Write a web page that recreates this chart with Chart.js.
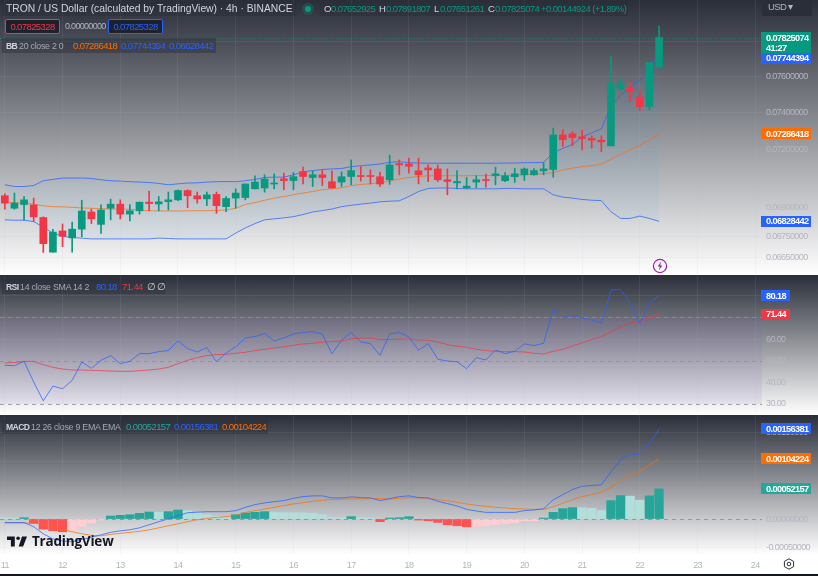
<!DOCTYPE html>
<html lang="en">
<head>
<meta charset="utf-8">
<title>TRON / US Dollar 4h</title>
<script src="https://cdn.jsdelivr.net/npm/chart.js@4"></script>
<style>
  html, body { margin: 0; padding: 0; width: 818px; height: 576px; overflow: hidden; background: #131722; }
  body { position: relative; font-family: "Liberation Sans", sans-serif; }
  .pane { position: absolute; left: 0; width: 818px; }
  #pricePane { top: 0; height: 275px; background: linear-gradient(#2a2e39, #ffffff); }
  #rsiPane { top: 275px; height: 140px; background: linear-gradient(#2a2e39, #ffffff); }
  #macdPane { top: 415px; height: 159px; background: linear-gradient(#2a2e39 0%, #ffffff 88%); }
  canvas { position: absolute; left: 0; top: 0; }
  .t { position: absolute; white-space: nowrap; font-size: 9.5px; line-height: 12px; color: #a5a8b2; letter-spacing: -0.6px; }
  .d { font-size: 8.8px; letter-spacing: -0.25px; }
  .n { color: #d1d4dc; font-size: 8.6px; font-weight: 700; letter-spacing: -0.6px; }
  .shade { position: absolute; background: rgba(42,46,57,0.45); }
  .name { color: #d1d4dc; }
  .green { color: #089981; }
  .teal { color: #26a69a; }
  .blue { color: #2962ff; }
  .orange { color: #ff6d00; }
  .red { color: #f23645; }
  .box { position: absolute; top: 19px; width: 53px; height: 13px; border: 1px solid; border-radius: 2px; background: rgba(19,23,34,0.75); text-align: center; font-size: 9.5px; line-height: 13px; letter-spacing: -0.6px; }
</style>
</head>
<body>
<div class="pane" id="pricePane"><canvas id="priceChart" width="818" height="275"></canvas></div>
<div class="pane" id="rsiPane"><canvas id="rsiChart" width="818" height="140"></canvas></div>
<div class="pane" id="macdPane"><canvas id="macdChart" width="818" height="159"></canvas></div>

<div class="shade" style="left:2px;top:1px;width:294px;height:15px"></div>
<div class="shade" style="left:320px;top:1px;width:308px;height:15px"></div>
<div class="t name" style="left:6px;top:3px;font-size:10.3px;letter-spacing:0" id="symbolTitle">TRON / US Dollar (calculated by TradingView) · 4h · BINANCE</div>
<div style="position:absolute;left:302px;top:3px;width:12px;height:12px;border-radius:50%;background:rgba(8,153,129,0.25)"></div>
<div style="position:absolute;left:305px;top:6px;width:6px;height:6px;border-radius:50%;background:#089981"></div>
<div class="t name" style="left:324px;top:3px">O</div><div class="t green" style="left:331px;top:3px">0.07652925</div>
<div class="t name" style="left:379px;top:3px">H</div><div class="t green" style="left:386px;top:3px">0.07891807</div>
<div class="t name" style="left:434px;top:3px">L</div><div class="t green" style="left:440px;top:3px">0.07651261</div>
<div class="t name" style="left:488px;top:3px">C</div><div class="t green" style="left:495px;top:3px">0.07825074</div>
<div class="t green" style="left:541px;top:3px">+0.00144924 (+1.89%)</div>

<div class="box red" style="left:5px;border-color:#f23645">0.07825328</div>
<div class="t" style="left:65px;top:20px;color:#b2b5be;font-size:9px;letter-spacing:-0.7px">0.00000000</div>
<div class="box blue" style="left:108px;border-color:#2962ff">0.07825328</div>

<div class="shade" style="left:2px;top:38px;width:214px;height:15px"></div>
<div class="t n" style="left:6px;top:40px">BB</div>
<div class="t d" style="left:19px;top:40px">20 close 2 0</div>
<div class="t orange" style="left:73px;top:40px">0.07286418</div>
<div class="t blue" style="left:121px;top:40px">0.07744394</div>
<div class="t blue" style="left:169px;top:40px">0.06828442</div>

<div class="shade" style="left:2px;top:279px;width:163px;height:15px"></div>
<div class="t n" style="left:6px;top:281px">RSI</div>
<div class="t d" style="left:20px;top:281px">14 close SMA 14 2</div>
<div class="t blue" style="left:96px;top:281px">80.18</div>
<div class="t red" style="left:122px;top:281px">71.44</div>
<div class="t name" style="left:147px;top:281px">∅ ∅</div>

<div class="shade" style="left:2px;top:419px;width:266px;height:15px"></div>
<div class="t n" style="left:6px;top:421px">MACD</div>
<div class="t d" style="left:31px;top:421px">12 26 close 9 EMA EMA</div>
<div class="t teal" style="left:126px;top:421px">0.00052157</div>
<div class="t blue" style="left:174px;top:421px">0.00156381</div>
<div class="t orange" style="left:222px;top:421px">0.00104224</div>

<div style="position:absolute;left:762px;top:0;width:50px;height:16px;background:#2a2e39"></div>
<div class="t" style="left:768px;top:1px;color:#b2b5be;font-size:9.5px">USD ▾</div>

<!-- Lightning marker under the latest bar -->
<svg style="position:absolute;left:652px;top:258px" width="16" height="16" viewBox="0 0 16 16">
  <circle cx="8" cy="8" r="6.6" fill="none" stroke="#9c27b0" stroke-width="1.2"/>
  <path d="M9.2 3.6 5.6 8.6h2.2L6.8 12.4l3.6-5H8.2z" fill="#9c27b0"/>
</svg>

<!-- Brand mark and wordmark -->
<svg style="position:absolute;left:7px;top:535px" width="20" height="12" viewBox="0 0 36 20">
  <path d="M14 2H0v6h7v12h7zM29 20h-8l6-18h9z" fill="#131722"/><circle cx="20" cy="5" r="3.2" fill="#131722"/>
</svg>
<div class="t" style="left:32px;top:532px;font-size:13.5px;line-height:18px;font-weight:700;color:#131722;font-family:'Open Sans',sans-serif;letter-spacing:-0.2px">TradingView</div>

<!-- Time-scale settings icon -->
<svg style="position:absolute;left:783px;top:558px" width="12" height="12" viewBox="0 0 12 12">
  <path d="M6 .8 10.6 3.4v5.2L6 11.2 1.4 8.6V3.4z" fill="none" stroke="#2a2e39" stroke-width="1"/>
  <circle cx="6" cy="6" r="1.8" fill="none" stroke="#2a2e39" stroke-width="1"/>
</svg>

<script>
// Candles, newest last (one bar every four hours)
const opens = [0.06959,0.06895,0.06914,0.06912,0.06848,0.06674,0.06780,0.06745,0.06789,0.06876,0.06813,0.06895,0.06916,0.06865,0.06882,0.06926,0.06917,0.06929,0.06938,0.06986,0.06959,0.06943,0.06966,0.06903,0.06947,0.06950,0.06995,0.06999,0.07020,0.07047,0.07038,0.07085,0.07054,0.07068,0.07032,0.07030,0.07059,0.07063,0.07063,0.07058,0.07042,0.07127,0.07125,0.07089,0.07104,0.07099,0.07042,0.07026,0.07000,0.07030,0.07042,0.07064,0.07037,0.07058,0.07068,0.07068,0.07089,0.07096,0.07280,0.07286,0.07270,0.07261,0.07252,0.07221,0.07533,0.07538,0.07487,0.07435,0.07652925];
const highs = [0.06969,0.06973,0.06955,0.06947,0.06851,0.06788,0.06815,0.06824,0.06936,0.06891,0.06912,0.06942,0.06938,0.06914,0.06926,0.06983,0.06955,0.06978,0.06990,0.06990,0.06978,0.06978,0.06978,0.06955,0.06995,0.07020,0.07063,0.07068,0.07073,0.07077,0.07080,0.07108,0.07089,0.07094,0.07089,0.07084,0.07146,0.07111,0.07094,0.07082,0.07172,0.07146,0.07156,0.07156,0.07120,0.07120,0.07099,0.07090,0.07054,0.07063,0.07072,0.07108,0.07080,0.07101,0.07104,0.07101,0.07132,0.07317,0.07307,0.07298,0.07305,0.07275,0.07275,0.07715,0.07593,0.07568,0.07527,0.07681,0.07891807];
const lows = [0.06890,0.06890,0.06836,0.06827,0.06673,0.06674,0.06701,0.06674,0.06751,0.06817,0.06768,0.06836,0.06841,0.06830,0.06865,0.06882,0.06882,0.06886,0.06934,0.06898,0.06921,0.06908,0.06869,0.06877,0.06895,0.06938,0.06994,0.06978,0.06995,0.06990,0.06990,0.07020,0.07007,0.07011,0.06999,0.07007,0.07016,0.07035,0.07020,0.07007,0.07018,0.07068,0.07077,0.07021,0.07032,0.07033,0.06964,0.06994,0.06997,0.07000,0.07004,0.07016,0.07032,0.07028,0.07038,0.07066,0.07068,0.07056,0.07218,0.07223,0.07200,0.07209,0.07191,0.07221,0.07527,0.07462,0.07413,0.07416,0.07651261];
const closes = [0.06921,0.06921,0.06938,0.06851,0.06716,0.06774,0.06753,0.06789,0.06881,0.06841,0.06886,0.06916,0.06865,0.06882,0.06926,0.06919,0.06928,0.06938,0.06986,0.06959,0.06943,0.06964,0.06908,0.06945,0.06973,0.07020,0.07030,0.07046,0.07023,0.07038,0.07058,0.07059,0.07068,0.07054,0.06999,0.07058,0.07090,0.07059,0.07059,0.07020,0.07120,0.07120,0.07113,0.07068,0.07094,0.07042,0.07033,0.07033,0.07009,0.07042,0.07038,0.07073,0.07063,0.07073,0.07099,0.07090,0.07099,0.07280,0.07255,0.07266,0.07261,0.07252,0.07243,0.07565,0.07565,0.07518,0.07435,0.07681,0.07825074];

// Bollinger Bands (20, 2)
const bbUpper = [0.07016,0.07007,0.07007,0.07012,0.07037,0.07044,0.07051,0.07051,0.07051,0.07049,0.07042,0.07037,0.07035,0.07032,0.07030,0.07028,0.07023,0.07016,0.07021,0.07025,0.07026,0.07030,0.07032,0.07033,0.07032,0.07037,0.07044,0.07054,0.07056,0.07056,0.07068,0.07084,0.07090,0.07096,0.07099,0.07101,0.07111,0.07116,0.07120,0.07125,0.07134,0.07137,0.07132,0.07130,0.07129,0.07129,0.07129,0.07129,0.07129,0.07129,0.07129,0.07129,0.07130,0.07130,0.07132,0.07132,0.07134,0.07184,0.07208,0.07229,0.07270,0.07291,0.07313,0.07435,0.07499,0.07538,0.07583,0.07630,0.07744394];
const bbBasis = [0.06926,0.06924,0.06921,0.06916,0.06907,0.06903,0.06902,0.06900,0.06896,0.06895,0.06893,0.06891,0.06890,0.06890,0.06886,0.06882,0.06881,0.06881,0.06881,0.06882,0.06882,0.06882,0.06884,0.06886,0.06895,0.06914,0.06924,0.06936,0.06947,0.06955,0.06964,0.06973,0.06981,0.06990,0.06995,0.07000,0.07011,0.07018,0.07021,0.07028,0.07035,0.07046,0.07054,0.07059,0.07063,0.07063,0.07063,0.07063,0.07063,0.07064,0.07064,0.07064,0.07064,0.07066,0.07068,0.07072,0.07073,0.07080,0.07094,0.07103,0.07111,0.07116,0.07124,0.07150,0.07176,0.07202,0.07223,0.07253,0.07286418];
const bbLower = [0.06836,0.06834,0.06834,0.06827,0.06799,0.06769,0.06753,0.06747,0.06744,0.06740,0.06740,0.06740,0.06740,0.06740,0.06740,0.06740,0.06744,0.06742,0.06740,0.06740,0.06740,0.06740,0.06740,0.06740,0.06769,0.06795,0.06817,0.06836,0.06841,0.06846,0.06852,0.06863,0.06876,0.06883,0.06891,0.06903,0.06910,0.06916,0.06921,0.06928,0.06931,0.06933,0.06955,0.06981,0.06997,0.06999,0.06999,0.06997,0.06995,0.06995,0.06995,0.06995,0.06997,0.06997,0.06995,0.06995,0.06995,0.06964,0.06952,0.06947,0.06940,0.06936,0.06934,0.06877,0.06843,0.06843,0.06855,0.06843,0.06828442];

// RSI (14) and its SMA
const rsiValues = [47.83,47.67,49.69,40.08,31.4,38.22,36.98,40.85,49.38,46.43,50.16,52.33,48.6,49.69,53.26,53.26,54.19,54.65,59.15,55.58,54.03,56.05,49.53,53.57,56.36,60.54,61.16,62.56,59.15,60.54,62.4,63.02,63.49,62.25,53.26,59.46,63.02,58.68,57.91,52.48,62.4,63.02,61.01,54.81,57.91,50.62,49.84,49.53,46.28,51.4,50.31,54.96,53.26,54.34,57.75,56.98,58.06,73.72,70,70.93,69.84,68.76,67.36,82.71,83.02,76.51,67.36,76.51,80.18];
const rsiAverage = [48.91,49.07,49.69,49.69,48.14,46.9,46.12,45.66,45.66,45.5,45.35,45.19,45.04,45.04,45.35,45.66,46.12,46.9,48.6,50.16,51.4,52.33,52.79,52.95,53.41,53.88,54.65,55.27,55.89,56.36,57.13,57.75,58.06,58.53,58.84,59.15,60.08,60.39,60.54,59.77,59.77,59.92,60.08,59.61,59.46,58.68,57.44,56.67,56.2,55.27,54.65,54.34,54.19,54.19,54.03,53.41,53.1,54.34,55.27,56.82,58.22,59.77,61.01,63.33,65.66,67.36,68.29,70,71.44];

// MACD (12, 26, 9)
const macdHistogram = [0.000023,0.000017,0.000023,-0.000075,-0.000174,-0.000203,-0.000221,-0.000209,-0.000128,-0.00007,-0.000017,0.000052,0.000064,0.000075,0.000099,0.000122,0.000116,0.000128,0.000157,0.000145,0.000116,0.000075,0.000046,0.000029,0.000075,0.000105,0.000116,0.000128,0.000112,0.00011,0.000108,0.000106,0.000099,0.000075,0.000029,0.000023,0.000041,0.000023,0.000006,-0.000046,0.000006,0.000023,0.000041,-0.000002,-0.000029,-0.000058,-0.000099,-0.000116,-0.000134,-0.000128,-0.000116,-0.000099,-0.000081,-0.000064,-0.000029,-0.000028,0.000006,0.000116,0.00018,0.000197,0.000196,0.000186,0.000145,0.000319,0.000406,0.000395,0.000325,0.000401,0.00052157];
const macdLine = [-0.000059,-0.000059,-0.000059,-0.000134,-0.000256,-0.000343,-0.000378,-0.000395,-0.000352,-0.000317,-0.000273,-0.00023,-0.000204,-0.000186,-0.000152,-0.000099,-0.000047,0.000005,0.000057,0.00011,0.000118,0.000127,0.000127,0.000127,0.000145,0.000202,0.000249,0.000279,0.000301,0.000319,0.000359,0.000388,0.000401,0.000401,0.000366,0.000366,0.000383,0.000371,0.000366,0.000319,0.000354,0.000388,0.000401,0.000371,0.000366,0.000307,0.000267,0.000226,0.000167,0.000139,0.000115,0.000115,0.000115,0.000115,0.000145,0.000157,0.000179,0.000331,0.000423,0.00051,0.000568,0.00058,0.000592,0.000812,0.001028,0.001125,0.00112,0.001307,0.00156381];
const macdSignal = [-0.00007,-0.00007,-0.00007,-0.00007,-0.000082,-0.000134,-0.000186,-0.000221,-0.000256,-0.000282,-0.000291,-0.000265,-0.000247,-0.00023,-0.000213,-0.000186,-0.000152,-0.000117,-0.000082,-0.000047,-0.000012,0.00001,0.000028,0.00004,0.000063,0.000115,0.000145,0.000174,0.000202,0.000232,0.000261,0.000284,0.000307,0.000324,0.000341,0.000341,0.000348,0.000348,0.000354,0.000354,0.000348,0.000359,0.000371,0.000366,0.000359,0.000336,0.000314,0.000289,0.000261,0.000237,0.000219,0.000202,0.000192,0.000179,0.000174,0.000167,0.000167,0.000214,0.000272,0.000336,0.000388,0.000423,0.000463,0.00055,0.000667,0.000767,0.000824,0.000928,0.00104224];

// Time axis: one label per day, six bars apart
const dayLabels = ['11','12','13','14','15','16','17','18','19','20','21','22','23','24'];
const BARS_PER_DAY = 6;
const priceTicks = [0.078,0.076,0.074,0.072,0.069,0.0675,0.0665];
const rsiTicks = [80,70,60,50,40,30];
const macdTicks = [0.0015,0.001,0.0005,0,-0.0005];

const BODY_UP = '#089981', BODY_DOWN = '#f23645';
const LINE_BLUE = '#2962ff', LINE_ORANGE = '#ff6d00', LINE_RED = '#f23645';
const STROKE_BLUE = 'rgba(41,98,255,0.75)', STROKE_ORANGE = 'rgba(255,109,0,0.72)', STROKE_RED = 'rgba(242,54,69,0.72)';
const GRID = 'rgba(190,190,200,0.1)';
const TICK_TEXT = '#b4b6c0';
const FONT_NAME = '"Liberation Sans", sans-serif';
const FONT = { family: FONT_NAME, size: 9 };
const xDomain = { min: -0.5, max: 78.7 };
const AXIS_WIDTH = 56;

// Scale labels are set tight so eight decimals fit the narrow axis
Chart.register({ id: 'tightText', beforeDraw(chart) { chart.ctx.letterSpacing = '-0.6px'; } });

const asPoints = values => values.map((y, x) => ({ x, y }));

// The plot must run edge to edge, so label overhang may not shrink it
function clearOverhang(s) {
  s.paddingLeft = s.paddingRight = s.paddingTop = s.paddingBottom = 0;
}

function timeAxis(showLabels) {
  return {
    type: 'linear', min: xDomain.min, max: xDomain.max, offset: false,
    afterBuildTicks: s => { s.ticks = dayLabels.map((_, d) => ({ value: d * BARS_PER_DAY })); },
    afterFit: s => { s.height = showLabels ? 20 : 0; clearOverhang(s); },
    grid: { color: GRID, drawTicks: false, offset: false },
    border: { display: false },
    ticks: {
      display: showLabels, autoSkip: false, maxRotation: 0, padding: 6, color: TICK_TEXT, font: FONT,
      callback: v => dayLabels[v / BARS_PER_DAY]
    }
  };
}

function valueAxis(extra, tickValues, digits) {
  return Object.assign({
    position: 'right',
    afterBuildTicks: s => { s.ticks = tickValues.map(value => ({ value })); },
    afterFit: s => { s.width = AXIS_WIDTH; clearOverhang(s); },
    grid: { color: GRID, drawTicks: false },
    border: { display: false },
    ticks: { autoSkip: false, padding: 4, color: TICK_TEXT, font: FONT, callback: v => (+v).toFixed(digits) }
  }, extra);
}

function lineSet(values, color, extra) {
  return Object.assign({
    type: 'line', data: asPoints(values), borderColor: color, borderWidth: 1,
    pointRadius: 0, tension: 0, order: 2, fill: false
  }, extra);
}

// Value badges on the right-hand scale, drawn from the last point of each series
function badgePlugin(badges) {
  return {
    id: 'valueBadges',
    afterDraw(chart) {
      const { ctx, scales: { y }, chartArea: { right } } = chart;
      ctx.save();
      badges.forEach(b => {
        const cy = y.getPixelForValue(b.value) + (b.shift || 0);
        const text = b.value.toFixed(b.digits);
        const h = b.note ? 21 : 11;
        ctx.fillStyle = b.color;
        ctx.fillRect(right - 1, Math.round(cy - 5.5), b.width, h);
        ctx.fillStyle = '#ffffff';
        ctx.font = 'bold 9.2px ' + FONT_NAME;
        ctx.textBaseline = 'middle';
        ctx.fillText(text, right + 4, Math.round(cy) + 0.5);
        if (b.note) ctx.fillText(b.note, right + 4, Math.round(cy) + 10.5);
      });
      ctx.restore();
    }
  };
}

// Horizontal guides and bands painted behind the series
function guidePlugin(draw) {
  return { id: 'guides', beforeDatasetsDraw(chart) {
    const { ctx, scales: { y }, chartArea: a } = chart;
    ctx.save();
    draw(ctx, y, a);
    ctx.restore();
  } };
}

function dashedLevel(ctx, y, a, value, color, dash) {
  const py = Math.round(y.getPixelForValue(value)) + 0.5;
  ctx.strokeStyle = color;
  ctx.lineWidth = 1;
  ctx.setLineDash(dash);
  ctx.beginPath();
  ctx.moveTo(a.left, py);
  ctx.lineTo(a.right, py);
  ctx.stroke();
}

const baseOptions = scales => ({
  responsive: false, animation: false, devicePixelRatio: 1,
  layout: { padding: 0 },
  plugins: { legend: { display: false }, tooltip: { enabled: false } },
  scales
});

const last = a => a[a.length - 1];
const candleColors = opens.map((o, i) => closes[i] >= o ? BODY_UP : BODY_DOWN);

new Chart(document.getElementById('priceChart'), {
  data: {
    datasets: [
      { type: 'bar', grouped: false, order: 0, barThickness: 7, minBarLength: 1,
        data: opens.map((o, i) => ({ x: i, y: [o, closes[i]] })), backgroundColor: candleColors },
      { type: 'bar', grouped: false, order: 1, barThickness: 1,
        data: lows.map((l, i) => ({ x: i, y: [l, highs[i]] })), backgroundColor: candleColors },
      lineSet(bbUpper, STROKE_BLUE, { fill: { target: 3 }, backgroundColor: 'rgba(33,150,243,0.05)' }),
      lineSet(bbLower, STROKE_BLUE),
      lineSet(bbBasis, STROKE_ORANGE)
    ]
  },
  options: baseOptions({
    x: timeAxis(false),
    y: valueAxis({ type: 'logarithmic', min: 0.06562, max: 0.08046 }, priceTicks, 8)
  }),
  plugins: [
    guidePlugin((ctx, y, a) => dashedLevel(ctx, y, a, last(closes), 'rgba(8,153,129,0.6)', [1, 2])),
    badgePlugin([
      { value: last(closes), digits: 8, color: BODY_UP, width: 50, note: '41:27' },
      { value: last(bbUpper), digits: 8, color: LINE_BLUE, width: 50, shift: 6.5 },
      { value: last(bbBasis), digits: 8, color: LINE_ORANGE, width: 50 },
      { value: last(bbLower), digits: 8, color: LINE_BLUE, width: 50 }
    ])
  ]
});

new Chart(document.getElementById('rsiChart'), {
  data: {
    datasets: [
      lineSet(rsiValues, STROKE_BLUE, { order: 1 }),
      lineSet(rsiAverage, STROKE_RED, { order: 2 })
    ]
  },
  options: baseOptions({
    x: timeAxis(false),
    y: valueAxis({ type: 'linear', min: 24.8, max: 89.7 }, rsiTicks, 2)
  }),
  plugins: [
    guidePlugin((ctx, y, a) => {
      const top = y.getPixelForValue(70), bottom = y.getPixelForValue(30);
      ctx.fillStyle = 'rgba(126,87,194,0.1)';
      ctx.fillRect(a.left, top, a.right - a.left, bottom - top);
      [70, 50, 30].forEach(level => dashedLevel(ctx, y, a, level, 'rgba(140,140,148,0.8)', [4, 4]));
    }),
    badgePlugin([
      { value: last(rsiValues), digits: 2, color: LINE_BLUE, width: 29 },
      { value: last(rsiAverage), digits: 2, color: LINE_RED, width: 29 }
    ])
  ]
});

// Histogram shade follows the direction of the bar against the previous one
const HIST_UP = '#26a69a', HIST_UP_FADE = '#b2dfdb', HIST_DOWN = '#ff5252', HIST_DOWN_FADE = '#ffcdd2';
const histColors = macdHistogram.map((v, i) => {
  const rising = i > 0 && v > macdHistogram[i - 1];
  if (v >= 0) return rising ? HIST_UP : HIST_UP_FADE;
  return rising ? HIST_DOWN_FADE : HIST_DOWN;
});

new Chart(document.getElementById('macdChart'), {
  data: {
    datasets: [
      { type: 'bar', grouped: false, order: 3, barThickness: 8.6, minBarLength: 1,
        data: asPoints(macdHistogram), backgroundColor: histColors },
      lineSet(macdLine, STROKE_BLUE, { order: 1 }),
      lineSet(macdSignal, STROKE_ORANGE, { order: 2 })
    ]
  },
  options: baseOptions({
    x: timeAxis(true),
    y: valueAxis({ type: 'linear', min: -0.000605, max: 0.0018 }, macdTicks, 8)
  }),
  plugins: [
    guidePlugin((ctx, y, a) => dashedLevel(ctx, y, a, 0, 'rgba(140,140,148,0.8)', [4, 4])),
    badgePlugin([
      { value: last(macdLine), digits: 8, color: LINE_BLUE, width: 50 },
      { value: last(macdSignal), digits: 8, color: LINE_ORANGE, width: 50 },
      { value: last(macdHistogram), digits: 8, color: HIST_UP, width: 50 }
    ])
  ]
});
</script>
</body>
</html>
